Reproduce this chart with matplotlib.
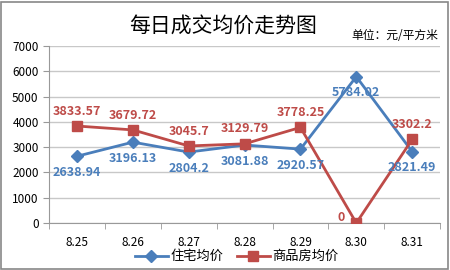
import matplotlib.pyplot as plt
from matplotlib.patches import Rectangle

plt.rcParams['font.family'] = ['Noto Sans CJK SC', 'DejaVu Sans']

dates = ['8.25', '8.26', '8.27', '8.28', '8.29', '8.30', '8.31']
zhuzhai = [2638.94, 3196.13, 2804.2, 3081.88, 2920.57, 5784.02, 2821.49]
shangpin = [3833.57, 3679.72, 3045.7, 3129.79, 3778.25, 0, 3302.2]
zhuzhai_txt = ['2638.94', '3196.13', '2804.2', '3081.88', '2920.57', '5784.02', '2821.49']
shangpin_txt = ['3833.57', '3679.72', '3045.7', '3129.79', '3778.25', '0', '3302.2']

blue = '#4A7EBB'
red = '#BE4B48'

fig = plt.figure(figsize=(4.5, 2.7), dpi=100)
fig.patches.append(Rectangle((0.003, 0.004), 0.992, 0.99, transform=fig.transFigure,
                             fill=False, edgecolor='#888888', linewidth=1.2))
ax = fig.add_axes([0.109, 0.174, 0.869, 0.656])

x = list(range(len(dates)))
ax.plot(x, zhuzhai, color=blue, linewidth=2, marker='D', markersize=6,
        label='住宅均价', zorder=3)
ax.plot(x, shangpin, color=red, linewidth=2, marker='s', markersize=7,
        label='商品房均价', zorder=3)

for i, t in enumerate(zhuzhai_txt):
    ax.annotate(t, (i, zhuzhai[i]), xytext=(0, -7), textcoords='offset points',
                ha='center', va='top', color=blue, fontsize=9, fontweight='bold')
for i, t in enumerate(shangpin_txt):
    if shangpin[i] == 0:
        ax.annotate(t, (i, shangpin[i]), xytext=(-8, 4), textcoords='offset points',
                    ha='right', va='center', color=red, fontsize=9, fontweight='bold')
    else:
        ax.annotate(t, (i, shangpin[i]), xytext=(0, 6), textcoords='offset points',
                    ha='center', va='bottom', color=red, fontsize=9, fontweight='bold')

ax.set_xlim(-0.5, 6.5)
ax.set_ylim(0, 7000)
ax.set_yticks(range(0, 7001, 1000))
ax.set_xticks(x)
ax.set_xticklabels(dates)
ax.set_xticks([i + 0.5 for i in range(-1, 7)], minor=True)
ax.tick_params(axis='x', which='major', length=0, pad=9, labelsize=8.5)
ax.tick_params(axis='x', which='minor', length=4, color='#999999')
ax.tick_params(axis='y', length=4, color='#999999', labelsize=8.5)
ax.grid(True, axis='y', color='#C8C8C8', linewidth=1)
ax.set_axisbelow(True)
for s in ['top', 'right']:
    ax.spines[s].set_visible(False)
ax.spines['left'].set_color('#999999')
ax.spines['bottom'].set_color('#999999')

fig.text(0.495, 0.905, '每日成交均价走势图', ha='center', va='center', fontsize=15)
fig.text(0.975, 0.87, '单位：元/平方米', ha='right', va='center', fontsize=8.5)

ax.legend(loc='center', bbox_to_anchor=(0.48, -0.19), ncol=2, frameon=False,
          fontsize=9.5, handlelength=2.5, columnspacing=1.0, handletextpad=0.2)

fig.savefig('out.png', dpi=100)
